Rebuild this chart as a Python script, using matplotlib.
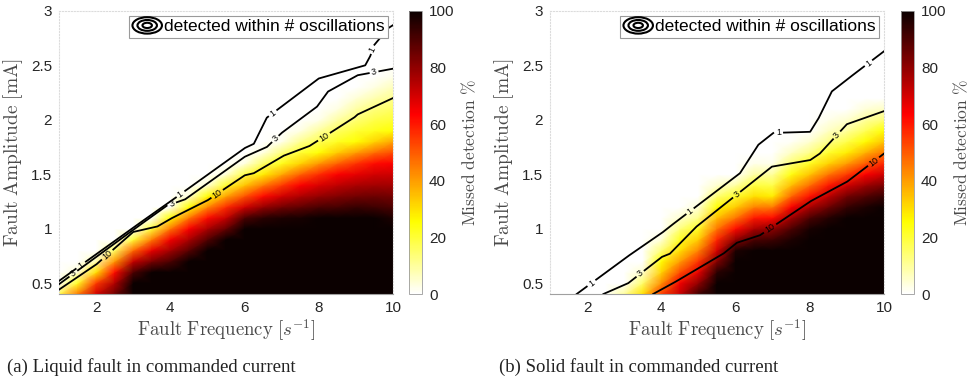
import numpy as np
import matplotlib
matplotlib.use('Agg')
import matplotlib.pyplot as plt
from matplotlib.patches import Ellipse
from matplotlib.legend_handler import HandlerBase
from matplotlib.ticker import FormatStrFormatter

plt.rcParams['font.family'] = ['Liberation Sans', 'DejaVu Sans']
plt.rcParams['mathtext.fontset'] = 'cm'

# simulation grid
freq = [1, 1.5, 2, 2.5, 3, 3.5, 4, 4.5, 5, 5.5, 6, 6.5, 7, 7.5, 8, 8.5, 9, 9.5, 10]
amp = [0.4, 0.5, 0.6, 0.7, 0.8, 0.9, 1.0, 1.1, 1.2, 1.3, 1.4, 1.5, 1.6, 1.7, 1.8,
       1.9, 2.0, 2.1, 2.2, 2.3, 2.4, 2.5, 2.6, 2.7, 2.8, 2.9, 3.0]

# missed detection [%] per frequency, from amplitude 0.4 upward;
# everything above the listed values is 0
missed_liquid = [
    [18, 0],
    [45, 22, 4, 0],
    [70, 55, 30, 8, 0],
    [85, 75, 62, 41, 16, 0],
    [100, 100, 90, 72, 48, 20, 0],
    [100, 100, 100, 83, 67, 45, 20, 0],
    [100, 100, 100, 90, 77, 65, 46, 25, 0],
    [100, 100, 100, 100, 88, 76, 64, 46, 25, 4, 0],
    [100, 100, 100, 100, 100, 89, 76, 62, 43, 25, 4, 0],
    [100, 100, 100, 100, 100, 100, 86, 72, 57, 39, 21, 4, 0],
    [100, 100, 100, 100, 100, 100, 100, 90, 70, 51, 34, 18, 3, 0],
    [100, 100, 100, 100, 100, 100, 100, 95, 79, 62, 45, 28, 15, 3, 0],
    [100, 100, 100, 100, 100, 100, 100, 97, 84, 70, 55, 38, 23, 13, 2, 0],
    [100, 100, 100, 100, 100, 100, 100, 98, 87, 75, 64, 49, 32, 20, 11, 3, 0],
    [100, 100, 100, 100, 100, 100, 100, 100, 90, 79, 69, 57, 41, 25, 17, 10, 2, 0],
    [100, 100, 100, 100, 100, 100, 100, 100, 91, 82, 73, 64, 49, 33, 22, 16, 9, 3, 0],
    [100, 100, 100, 100, 100, 100, 100, 100, 93, 84, 76, 67, 56, 40, 25, 20, 14, 9, 4, 0],
    [100, 100, 100, 100, 100, 100, 100, 100, 92, 85, 77, 70, 62, 47, 32, 23, 18, 13, 8, 3, 0],
    [100, 100, 100, 100, 100, 100, 100, 97, 90, 84, 77, 71, 64, 52, 39, 25, 20, 16, 11, 7, 2, 0],
]
missed_solid = [
    [0],
    [0],
    [0],
    [0],
    [10, 0],
    [30, 15, 5, 0],
    [55, 42, 32, 25, 14, 4, 0],
    [72, 65, 52, 40, 30, 22, 13, 5, 0],
    [92, 80, 67, 56, 44, 33, 22, 12, 4, 0],
    [100, 100, 95, 82, 70, 58, 46, 35, 25, 14, 5, 0],
    [100, 100, 100, 100, 97, 80, 62, 46, 33, 21, 9, 0],
    [100, 100, 100, 100, 100, 90, 76, 60, 44, 30, 19, 9, 2, 0],
    [100, 100, 100, 100, 100, 92, 80, 62, 45, 28, 18, 10, 2, 0],
    [100, 100, 100, 100, 100, 97, 90, 78, 64, 48, 35, 24, 14, 6, 1, 0],
    [100, 100, 100, 100, 100, 100, 98, 90, 76, 61, 47, 34, 22, 12, 5, 0],
    [100, 100, 100, 100, 100, 100, 100, 96, 85, 73, 60, 46, 32, 21, 12, 6, 2, 0],
    [100, 100, 100, 100, 100, 100, 100, 100, 93, 84, 70, 55, 40, 28, 18, 10, 5, 0],
    [100, 100, 100, 100, 100, 100, 100, 100, 97, 89, 78, 64, 50, 37, 26, 17, 10, 4, 0],
    [100, 100, 100, 100, 100, 100, 100, 100, 100, 93, 83, 71, 58, 46, 34, 25, 14, 6, 0],
]

# "detected within # oscillations" iso-lines (frequency, amplitude)
liquid_osc1_f = [1.0, 3.0, 4.0, 6.0, 6.25, 6.6, 8.0, 9.25, 9.38, 9.5, 9.65, 9.86, 10.0]
liquid_osc1_a = [0.52, 1.01, 1.25, 1.74, 1.78, 2.02, 2.38, 2.50, 2.58, 2.69, 2.75, 2.84, 2.87]
liquid_osc3_f = [1.0, 2.0, 3.0, 3.9, 4.4, 6.0, 6.6, 7.0, 7.95, 8.25, 9.05, 10.0]
liquid_osc3_a = [0.49, 0.74, 0.99, 1.21, 1.27, 1.66, 1.75, 1.88, 2.12, 2.26, 2.41, 2.47]
liquid_osc10_f = [1.0, 2.0, 3.0, 3.65, 4.0, 5.0, 6.0, 6.25, 7.05, 7.75, 8.95, 9.05, 10.0]
liquid_osc10_a = [0.44, 0.67, 0.97, 1.02, 1.09, 1.26, 1.49, 1.51, 1.67, 1.76, 2.02, 2.05, 2.20]

solid_osc1_f = [1.72, 3.07, 4.01, 4.23, 6.12, 6.61, 7.02, 8.01, 8.23, 8.59, 9.0, 10.0]
solid_osc1_a = [0.40, 0.74, 0.96, 1.02, 1.51, 1.77, 1.88, 1.89, 2.01, 2.26, 2.37, 2.63]
solid_osc3_f = [2.44, 3.11, 4.01, 4.23, 4.95, 6.98, 8.01, 8.27, 9.0, 10.0]
solid_osc3_a = [0.40, 0.50, 0.74, 0.77, 1.02, 1.57, 1.63, 1.69, 1.96, 2.08]
solid_osc10_f = [3.78, 4.32, 5.67, 6.03, 6.66, 8.01, 9.0, 10.0]
solid_osc10_a = [0.40, 0.50, 0.77, 0.87, 0.94, 1.25, 1.43, 1.69]

# where the level numbers sit on each line (frequency)
liquid_label_f = {'1': [1.59, 4.27, 6.75, 9.45], '3': [1.39, 4.04, 6.83, 9.49], '10': [2.3, 5.26, 8.14]}
solid_label_f = {'1': [2.12, 4.77, 7.16, 9.58], '3': [3.43, 6.03, 8.73], '10': [6.93, 9.72]}

captions = ['(a) Liquid fault in commanded current', '(b) Solid fault in commanded current']

label_col = '#4a4a4a'
tick_col = '#262626'


def to_grid(cols):
    # columns per frequency -> (amp, freq) array, zero above the listed values
    g = np.zeros((len(amp), len(freq)))
    for j, c in enumerate(cols):
        g[:len(c), j] = c
    return g


class Rings:
    pass


class RingsHandler(HandlerBase):
    # concentric ellipses as legend symbol
    def create_artists(self, legend, orig_handle, xdescent, ydescent,
                       width, height, fontsize, trans):
        cx = width / 2 - xdescent
        cy = height / 2 - ydescent
        out = []
        for s in (1.0, 0.66, 0.32):
            out.append(Ellipse((cx, cy), width * s, height * 1.35 * s, fill=False,
                               lw=1.5, ec='k', transform=trans))
        return out


def iso_line(ax, xs, ys, text, label_x):
    xs = np.asarray(xs, float)
    ys = np.asarray(ys, float)
    # dense copy of the polyline so a gap can be cut around each label
    k = np.arange(len(xs))
    t = np.linspace(0, len(xs) - 1, (len(xs) - 1) * 80 + 1)
    px = np.interp(t, k, xs)
    py = np.interp(t, k, ys)
    disp = ax.transData.transform(np.column_stack([px, py]))
    gap = 3.0 + 2.3 * len(text)
    for lx in label_x:
        ly = np.interp(lx, xs, ys)
        c = ax.transData.transform((lx, ly))
        d = np.hypot(disp[:, 0] - c[0], disp[:, 1] - c[1])
        px[d < gap] = np.nan
        p0 = ax.transData.transform((lx - 0.12, np.interp(lx - 0.12, xs, ys)))
        p1 = ax.transData.transform((lx + 0.12, np.interp(lx + 0.12, xs, ys)))
        ang = np.degrees(np.arctan2(p1[1] - p0[1], p1[0] - p0[0]))
        ax.text(lx, ly, text, rotation=ang, rotation_mode='anchor', ha='center',
                va='center', fontsize=6.5, color='k', zorder=5)
    ax.plot(px, py, color='k', lw=1.3, zorder=4)


fig = plt.figure(figsize=(9.71, 3.8), dpi=100)

panels = [
    (missed_liquid, 59, 409,
     [(liquid_osc1_f, liquid_osc1_a, '1'), (liquid_osc3_f, liquid_osc3_a, '3'),
      (liquid_osc10_f, liquid_osc10_a, '10')], liquid_label_f),
    (missed_solid, 550, 901,
     [(solid_osc1_f, solid_osc1_a, '1'), (solid_osc3_f, solid_osc3_a, '3'),
      (solid_osc10_f, solid_osc10_a, '10')], solid_label_f),
]

bottom = 86 / 380
height = 283 / 380

for i, (missed, left_px, cbar_px, lines, label_f) in enumerate(panels):
    ax = fig.add_axes([left_px / 971, bottom, 334 / 971, height])
    mesh = ax.pcolormesh(freq, amp, to_grid(missed), shading='gouraud',
                         cmap='hot_r', vmin=0, vmax=100, zorder=1)
    ax.set_xlim(1, 10)
    ax.set_ylim(0.4, 3)
    ax.set_xticks([2, 4, 6, 8, 10])
    ax.set_yticks([0.5, 1, 1.5, 2, 2.5, 3])
    ax.yaxis.set_major_formatter(FormatStrFormatter('%g'))
    ax.tick_params(length=0, labelsize=11, labelcolor=tick_col, pad=5)
    for s in ['top', 'right', 'left']:
        ax.spines[s].set_color('#dcdcdc')
        ax.spines[s].set_linestyle(':')
        ax.spines[s].set_linewidth(0.8)
    ax.spines['bottom'].set_color('#a0a0a0')
    ax.spines['bottom'].set_linewidth(0.8)
    ax.spines['bottom'].set_zorder(6)

    ax.set_xlabel(r'$\mathrm{Fault\ Frequency}\ [s^{-1}]$', fontsize=13.5,
                  color=label_col, labelpad=2)
    ax.set_ylabel(r'$\mathrm{Fault\ Amplitude}\ [\mathrm{mA}]$', fontsize=14,
                  color=label_col, labelpad=4)

    for xs, ys, lev in lines:
        iso_line(ax, xs, ys, lev, label_f[lev])

    leg = ax.legend([Rings()], ['detected within # oscillations'],
                    handler_map={Rings: RingsHandler()}, loc='upper right',
                    fontsize=12.5, handlelength=1.7, handleheight=0.7,
                    handletextpad=0.12, borderpad=0.18, borderaxespad=0.3,
                    fancybox=False, framealpha=1, edgecolor='#9a9a9a')
    leg.get_frame().set_linewidth(0.8)
    leg.set_zorder(10)

    cax = fig.add_axes([cbar_px / 971, bottom, 13 / 971, height])
    cb = fig.colorbar(mesh, cax=cax, ticks=[0, 20, 40, 60, 80, 100])
    cb.outline.set_edgecolor('#9a9a9a')
    cb.outline.set_linewidth(0.6)
    cax.tick_params(length=0, labelsize=11, labelcolor=tick_col, pad=5)
    cb.set_label(r'$\mathrm{Missed\ detection\ \%}$', fontsize=12.5,
                 color=label_col, labelpad=4)

    fig.text((7 if i == 0 else 499) / 971, 1 - 367 / 380, captions[i],
             family='Liberation Serif', fontsize=13.5, va='center', ha='left',
             color='#222222')

fig.savefig('out.png', dpi=100)
